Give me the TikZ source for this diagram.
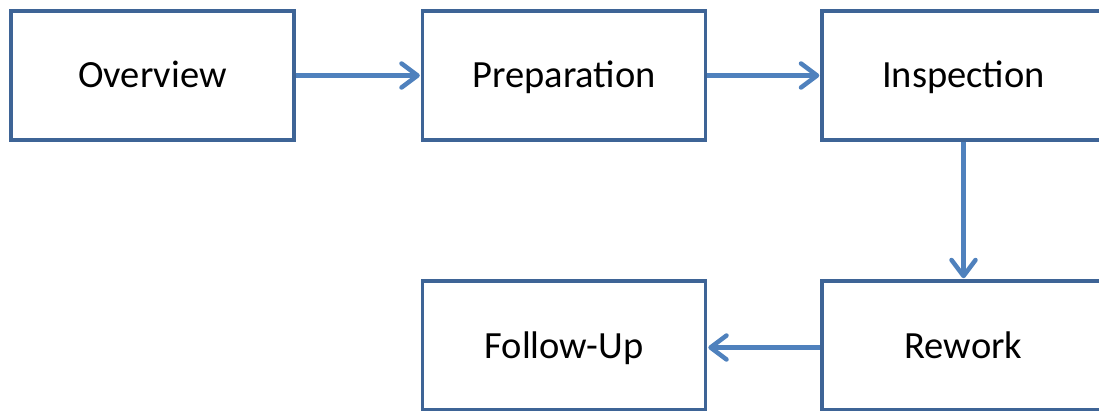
\documentclass[tikz,border=0pt]{standalone}
\usepackage{fontspec}
\setmainfont{Carlito}
\usetikzlibrary{arrows.meta}
\definecolor{boxborder}{HTML}{3E6496}
\definecolor{arrowblue}{HTML}{4F81BD}
\begin{document}
\begin{tikzpicture}[x=1pt,y=-1pt,
  stagebox/.style={draw=boxborder, line width=3.5pt, fill=white, minimum width=283pt, minimum height=129pt, inner sep=0pt, text height=26pt, text depth=1pt, font=\fontsize{38.5pt}{40pt}\selectfont},
  flow/.style={draw=arrowblue, line width=4.5pt, -{Straight Barb[length=16pt,width=24pt,round]}, shorten >=1pt}]
\useasboundingbox (0,0) rectangle (1099,411);
\clip (0,0) rectangle (1099,411);
\node[stagebox] (ov) at (152.5,75.5) {Overview};
\node[stagebox] (prep) at (564,75.5) {Preparation};
\node[stagebox] (insp) at (963.5,75.5) {Inspection};
\node[stagebox] (rew) at (963.5,345.5) {Rework};
\node[stagebox] (fu) at (564,345.5) {Follow-Up};
\draw[flow] (ov.east) -- (prep.west);
\draw[flow] (prep.east) -- (insp.west);
\draw[flow] (insp.south) -- (rew.north);
\draw[flow] ([yshift=-2pt]rew.west) -- ([yshift=-2pt]fu.east);
\end{tikzpicture}
\end{document}
